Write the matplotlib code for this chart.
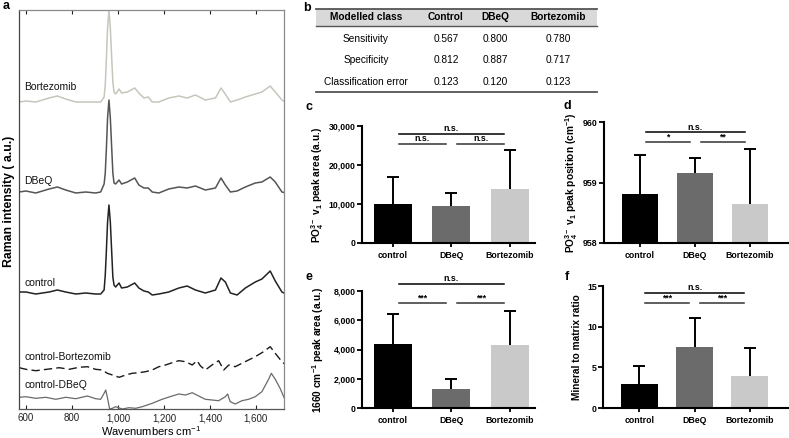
import matplotlib
matplotlib.use("Agg")
import matplotlib.pyplot as plt
import numpy as np

plt.rcParams["font.family"] = ["Liberation Sans", "DejaVu Sans"]
plt.rcParams["mathtext.fontset"] = "custom"
plt.rcParams["mathtext.rm"] = "Liberation Sans"
plt.rcParams["mathtext.bf"] = "Liberation Sans:bold"
plt.rcParams["mathtext.it"] = "Liberation Sans:italic"

W, H = 789, 438

# ---- panel a: mean spectra (stacked, arbitrary units) ----
WAVENUMBER = [571, 600, 643, 701, 737, 773, 817, 860, 903, 925, 940, 945, 950, 955,
              961, 967, 973, 978, 983, 990, 1005, 1016, 1041, 1073, 1091, 1113,
              1132, 1149, 1178, 1221, 1265, 1301, 1337, 1380, 1424, 1448, 1467,
              1489, 1518, 1554, 1597, 1626, 1662, 1684, 1713, 1730]
BORTEZOMIB = [307, 308, 307, 311, 313, 310, 307, 307, 307, 307, 312, 324, 351, 381,
              399, 381, 351, 327, 317, 315, 320, 316, 317, 321, 316, 311,
              312, 307, 307, 311, 313, 311, 314, 309, 311, 321, 315,
              307, 309, 312, 315, 317, 323, 317, 309, 307]
DBEQ = [217, 218, 216, 220, 222, 219, 216, 217, 216, 217, 225, 236, 261, 291,
        309, 291, 261, 236, 226, 225, 229, 225, 227, 231, 224, 221,
        221, 217, 216, 220, 222, 221, 223, 219, 221, 231, 224,
        217, 218, 222, 226, 227, 232, 227, 217, 216]
CONTROL = [117, 117, 115, 117, 119, 117, 115, 116, 115, 115, 119, 134, 159, 187,
           204, 187, 157, 132, 124, 122, 126, 121, 122, 126, 121, 118,
           117, 114, 115, 117, 121, 123, 119, 116, 119, 131, 127,
           116, 114, 121, 127, 130, 138, 128, 117, 115]

DIFF_B_WN = [571, 600, 643, 701, 745, 788, 831, 867, 903, 932, 954, 976, 1005, 1034,
             1062, 1091, 1120, 1149, 1178, 1207, 1236, 1265, 1294, 1323, 1344, 1359,
             1380, 1409, 1438, 1460, 1482, 1510, 1539, 1568, 1597, 1633, 1662, 1684,
             1713, 1730]
DIFF_B = [41.3, 39.7, 38.3, 40, 41.3, 39.7, 41.7, 42.3, 39.7, 39, 35.7, 34, 31.7, 34,
          35.7, 36.3, 37.3, 39, 42.3, 44, 46.3, 48.3, 47.3, 44, 48.3, 43,
          39, 44, 48.3, 39, 44, 42.3, 45.7, 49, 52.3, 57.3, 62.3, 55.7,
          47.3, 44]

DIFF_D_WN = [571, 600, 643, 687, 730, 773, 817, 867, 903, 925, 940, 947, 955, 964,
             976, 990, 1019, 1048, 1077, 1106, 1149, 1192, 1236, 1265, 1294, 1323,
             1351, 1380, 1409, 1438, 1467, 1477, 1488, 1510, 1539, 1568, 1597, 1626,
             1655, 1667, 1684, 1705, 1730]
DIFF_D = [11.7, 12.3, 10.7, 11.7, 9.7, 11.7, 10.3, 13, 10.3, 9.7, 15.7, 19, 10.7, 0,
          0.7, 2.3, 0, 1.3, 0.7, 2.3, 5.7, 9.7, 13, 15, 14, 16.3,
          13, 9.7, 9, 8.3, 12.3, 15, 7.3, 5, 8.3, 9.7, 12.3, 17.3,
          29.7, 35.7, 29.7, 20.7, 7.3]

SPEC_TICKS = [600, 800, 1000, 1200, 1400, 1600]
SPEC_TICKLABELS = ["600", "800", "1,000", "1,200", "1,400", "1,600"]

# ---- panel b: classification table ----
TABLE_HEADER = ["Modelled class", "Control", "DBeQ", "Bortezomib"]
TABLE_ROWS = ["Sensitivity", "Specificity", "Classification error"]
SENSITIVITY = [0.567, 0.800, 0.780]
SPECIFICITY = [0.812, 0.887, 0.717]
CLASS_ERROR = [0.123, 0.120, 0.123]

# ---- panels c-f: bar charts ----
GROUPS = ["control", "DBeQ", "Bortezomib"]
PO4_AREA = [10050, 9380, 13890]
PO4_AREA_SD = [7000, 3320, 9970]
PO4_POS = [958.81, 959.16, 958.64]
PO4_POS_SD = [0.65, 0.25, 0.92]
AMIDE_AREA = [4350, 1310, 4310]
AMIDE_AREA_SD = [2080, 700, 2330]
MIN_MATRIX = [2.94, 7.56, 3.96]
MIN_MATRIX_SD = [2.25, 3.47, 3.36]
SIG_C = ["n.s.", "n.s.", "n.s."]
SIG_D = ["n.s.", "*", "**"]
SIG_E = ["n.s.", "***", "***"]
SIG_F = ["n.s.", "***", "***"]

BAR_COLORS = ["#000000", "#6b6b6b", "#c9c9c9"]


def px_rect(left, top, right, bottom):
    return [left / W, 1 - bottom / H, (right - left) / W, (bottom - top) / H]


fig = plt.figure(figsize=(W / 100, H / 100), dpi=100)

# ---------------- a ----------------
ax = fig.add_axes(px_rect(19, 10, 284, 409))
ax.plot(WAVENUMBER, BORTEZOMIB, color="#c6c6bd", lw=1.1)
ax.plot(WAVENUMBER, DBEQ, color="#555555", lw=1.1)
ax.plot(WAVENUMBER, CONTROL, color="#222222", lw=1.1)
ax.plot(DIFF_B_WN, DIFF_B, color="#1a1a1a", lw=1.0, dashes=(6, 3))
ax.plot(DIFF_D_WN, DIFF_D, color="#6a6a6a", lw=0.9)
ax.set_xlim(570, 1722)
ax.set_ylim(0, 399)
ax.set_yticks([])
ax.set_xticks(SPEC_TICKS)
ax.set_xticklabels(SPEC_TICKLABELS)
ax.tick_params(axis="x", direction="in", top=True, length=3, width=0.8,
               labelsize=7, pad=3, colors="#222222")
for s in ["top", "right", "bottom"]:
    ax.spines[s].set_color("#8a8a8a")
ax.spines["left"].set_color("#444444")
ax.spines["bottom"].set_color("#555555")
for s in ax.spines.values():
    s.set_linewidth(0.9)
for name, (xw, yv) in zip(["Bortezomib", "DBeQ", "control", "control-Bortezomib", "control-DBeQ"],
                          [(592, 322), (592, 228), (592, 126), (592, 52), (592, 24)]):
    ax.text(xw, yv, name, fontsize=7.5, va="center", ha="left", color="#111111")
ax.set_xlabel("Wavenumbers cm$^{-1}$", fontsize=8, labelpad=1)
ax.set_ylabel("Raman intensity ( a.u.)", fontsize=8.8, fontweight="bold")
ax.yaxis.set_label_coords(-4 / 265, 0.52)

# ---------------- b ----------------
tb = fig.add_axes([0, 0, 1, 1])
tb.set_xlim(0, W)
tb.set_ylim(H, 0)
tb.axis("off")
t_left, t_right = 316, 597
tb.fill_between([t_left, t_right], 9, 26, color="#d9d9d9", lw=0)
tb.plot([t_left, t_right], [9, 9], color="#555555", lw=1.3)
tb.plot([t_left, t_right], [26, 26], color="#555555", lw=1.0)
tb.plot([t_left, t_right], [92, 92], color="#555555", lw=1.3)
col_x = [366, 446, 495, 558]
for cx, txt in zip(col_x, TABLE_HEADER):
    tb.text(cx, 17.5, txt, ha="center", va="center", fontsize=7.3, fontweight="bold")
for ry, name, vals in zip([39, 60, 82], TABLE_ROWS, [SENSITIVITY, SPECIFICITY, CLASS_ERROR]):
    tb.text(col_x[0], ry, name, ha="center", va="center", fontsize=7.3)
    for cx, v in zip(col_x[1:], vals):
        tb.text(cx, ry, f"{v:.3f}", ha="center", va="center", fontsize=7.3)

# panel letters
for letter, (lx, ly) in zip("abcdef", [(3, 6), (303, 8), (306, 107), (563, 106),
                                       (306, 277), (565, 277)]):
    fig.text(lx / W, 1 - ly / H, letter, fontsize=9, fontweight="bold",
             ha="left", va="center")


def bar_panel(rect_px, means, sds, base, top, yticks, yticklabels, ylabel,
              sig, sig_top, sig_low, xlim, label_x_px, width):
    left, t, right, b = rect_px
    ax = fig.add_axes(px_rect(left, t, right, b))
    x = np.arange(len(GROUPS))
    means = np.array(means)
    # symmetric error bars drawn under the bars: only the upper half shows
    ax.errorbar(x, means, yerr=sds, fmt="none", ecolor="black",
                elinewidth=1.4, capsize=4.2, capthick=1.4, zorder=1)
    ax.bar(x, means - base, bottom=base, width=width, color=BAR_COLORS,
           edgecolor="none", zorder=2)
    ax.set_xlim(*xlim)
    ax.set_ylim(base, top)
    ax.set_yticks(yticks)
    ax.set_yticklabels(yticklabels)
    ax.set_xticks(x)
    ax.set_xticklabels(GROUPS)
    for s in ["top", "right"]:
        ax.spines[s].set_visible(False)
    for s in ["left", "bottom"]:
        ax.spines[s].set_linewidth(1.5)
        ax.spines[s].set_zorder(3)
    ax.tick_params(axis="y", length=3.5, width=1.3, labelsize=6.3, pad=1)
    ax.tick_params(axis="x", length=3, width=1.3, labelsize=6.3, pad=3)
    for lab in ax.get_xticklabels() + ax.get_yticklabels():
        lab.set_fontweight("bold")
    ax.set_ylabel(ylabel, fontsize=7.3, fontweight="bold")
    ax.yaxis.set_label_coords((label_x_px - left) / (right - left), 0.5)
    d = 0.1
    pairs = [(0 + d, 2 - d, sig_top, "#000000"),
             (0 + d, 1 - d, sig_low, "#333333"),
             (1 + d, 2 - d, sig_low, "#333333")]
    for (x0, x1, y, c), lab in zip(pairs, sig):
        ax.plot([x0, x1], [y, y], color=c, lw=1.1, clip_on=False, zorder=3)
        ax.annotate(lab, ((x0 + x1) / 2, y), xytext=(0, 0.5), textcoords="offset points",
                    ha="center", va="bottom", fontsize=6.3, fontweight="bold",
                    annotation_clip=False)
    return ax


bar_panel((362, 126, 535, 243), PO4_AREA, PO4_AREA_SD, 0, 30000,
          [0, 10000, 20000, 30000], ["0", "10,000", "20,000", "30,000"],
          r"PO$_\mathbf{4}^\mathbf{3-}$ v$_\mathbf{1}$ peak area (a.u.)",
          SIG_C, 28000, 25400, (-0.53, 2.43), 326, 0.65)
bar_panel((604, 122, 788, 243), PO4_POS, PO4_POS_SD, 958, 960,
          [958, 959, 960], ["958", "959", "960"],
          r"PO$_\mathbf{4}^\mathbf{3-}$ v$_\mathbf{1}$ peak position (cm$^\mathbf{-1}$)",
          SIG_D, 959.83, 959.67, (-0.655, 2.69), 580, 0.67)
bar_panel((362, 291, 535, 408), AMIDE_AREA, AMIDE_AREA_SD, 0, 8000,
          [0, 2000, 4000, 6000, 8000], ["0", "2,000", "4,000", "6,000", "8,000"],
          r"1660 cm$^\mathbf{-1}$ peak area (a.u.)",
          SIG_E, 8480, 7180, (-0.53, 2.43), 326, 0.65)
bar_panel((603, 286, 788, 408), MIN_MATRIX, MIN_MATRIX_SD, 0, 15,
          [0, 5, 10, 15], ["0", "5", "10", "15"],
          "Mineral to matrix ratio",
          SIG_F, 14.14, 12.9, (-0.655, 2.69), 582, 0.67)

fig.savefig("out.png", dpi=100)
